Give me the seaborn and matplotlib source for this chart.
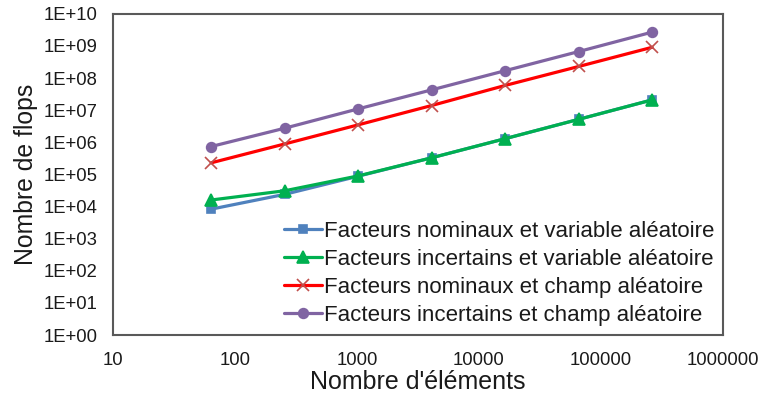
import numpy as np
import pandas as pd
import matplotlib
matplotlib.use("Agg")
import matplotlib.pyplot as plt
import seaborn as sns

# =========================
# DATA
# =========================

elements = [64, 256, 1024, 4096, 16384, 65536, 262144]

nominal_variable = [8.3e3, 2.4e4, 8.8e4, 3.3e5, 1.3e6, 5.2e6, 2.1e7]
uncertain_variable = [1.6e4, 3.1e4, 9.0e4, 3.3e5, 1.3e6, 5.2e6, 2.1e7]
nominal_field = [2.3e5, 8.9e5, 3.5e6, 1.4e7, 5.9e7, 2.3e8, 9.1e8]
uncertain_field = [7.4e5, 2.75e6, 1.1e7, 4.3e7, 1.7e8, 6.7e8, 2.7e9]

labels = [
    "Facteurs nominaux et variable aléatoire",
    "Facteurs incertains et variable aléatoire",
    "Facteurs nominaux et champ aléatoire",
    "Facteurs incertains et champ aléatoire",
]

x_ticks = [10, 100, 1000, 10000, 100000, 1000000]
y_ticks = [10.0 ** k for k in range(0, 11)]

# =========================
# PLOT
# =========================

sns.set_style("white")
plt.rcParams["font.family"] = ["Liberation Sans", "DejaVu Sans"]
plt.rcParams["text.color"] = "#1a1a1a"
plt.rcParams["axes.labelcolor"] = "#1a1a1a"

fig = plt.figure(figsize=(7.62, 3.96), dpi=100)
ax = fig.add_axes([0.148, 0.154, 0.801, 0.811])

series = [
    (nominal_variable, "#4F81BD", "s", 6, "#4F81BD"),
    (uncertain_variable, "#00B050", "^", 8, "#00B050"),
    (nominal_field, "#FF0000", "x", 9, "#C0504D"),
    (uncertain_field, "#8064A2", "o", 7, "#8064A2"),
]

for (values, color, marker, msize, mcolor), label in zip(series, labels):
    df = pd.DataFrame({"x": elements, "y": values})
    sns.lineplot(data=df, x="x", y="y", ax=ax, color=color, linewidth=2.3,
                 marker=marker, markersize=msize, markeredgecolor=mcolor,
                 markerfacecolor=mcolor, markeredgewidth=1.2, label=label)

ax.set_xscale("log")
ax.set_yscale("log")
ax.set_xlim(10, 1000000)
ax.set_ylim(1, 1e10)

ax.set_xticks(x_ticks)
ax.set_xticklabels([str(v) for v in x_ticks], fontsize=13.3)
ax.set_yticks(y_ticks)
ax.set_yticklabels(["1E+%02d" % k for k in range(0, 11)], fontsize=13.3)
ax.minorticks_off()
ax.tick_params(axis="y", length=0, pad=11, colors="#1a1a1a")
ax.tick_params(axis="x", length=0, pad=12, colors="#1a1a1a")

ax.set_xlabel("Nombre d'éléments", fontsize=18, labelpad=1)
ax.set_ylabel("Nombre de flops", fontsize=17.8, labelpad=4)

for side in ax.spines.values():
    side.set_color("#595959")
    side.set_linewidth(1.5)

ax.legend(loc="lower right", frameon=False, fontsize=16, handlelength=1.7,
          handletextpad=0.1, labelspacing=0.32, borderaxespad=0.2,
          borderpad=0.2)

plt.savefig("out.png", dpi=100)
